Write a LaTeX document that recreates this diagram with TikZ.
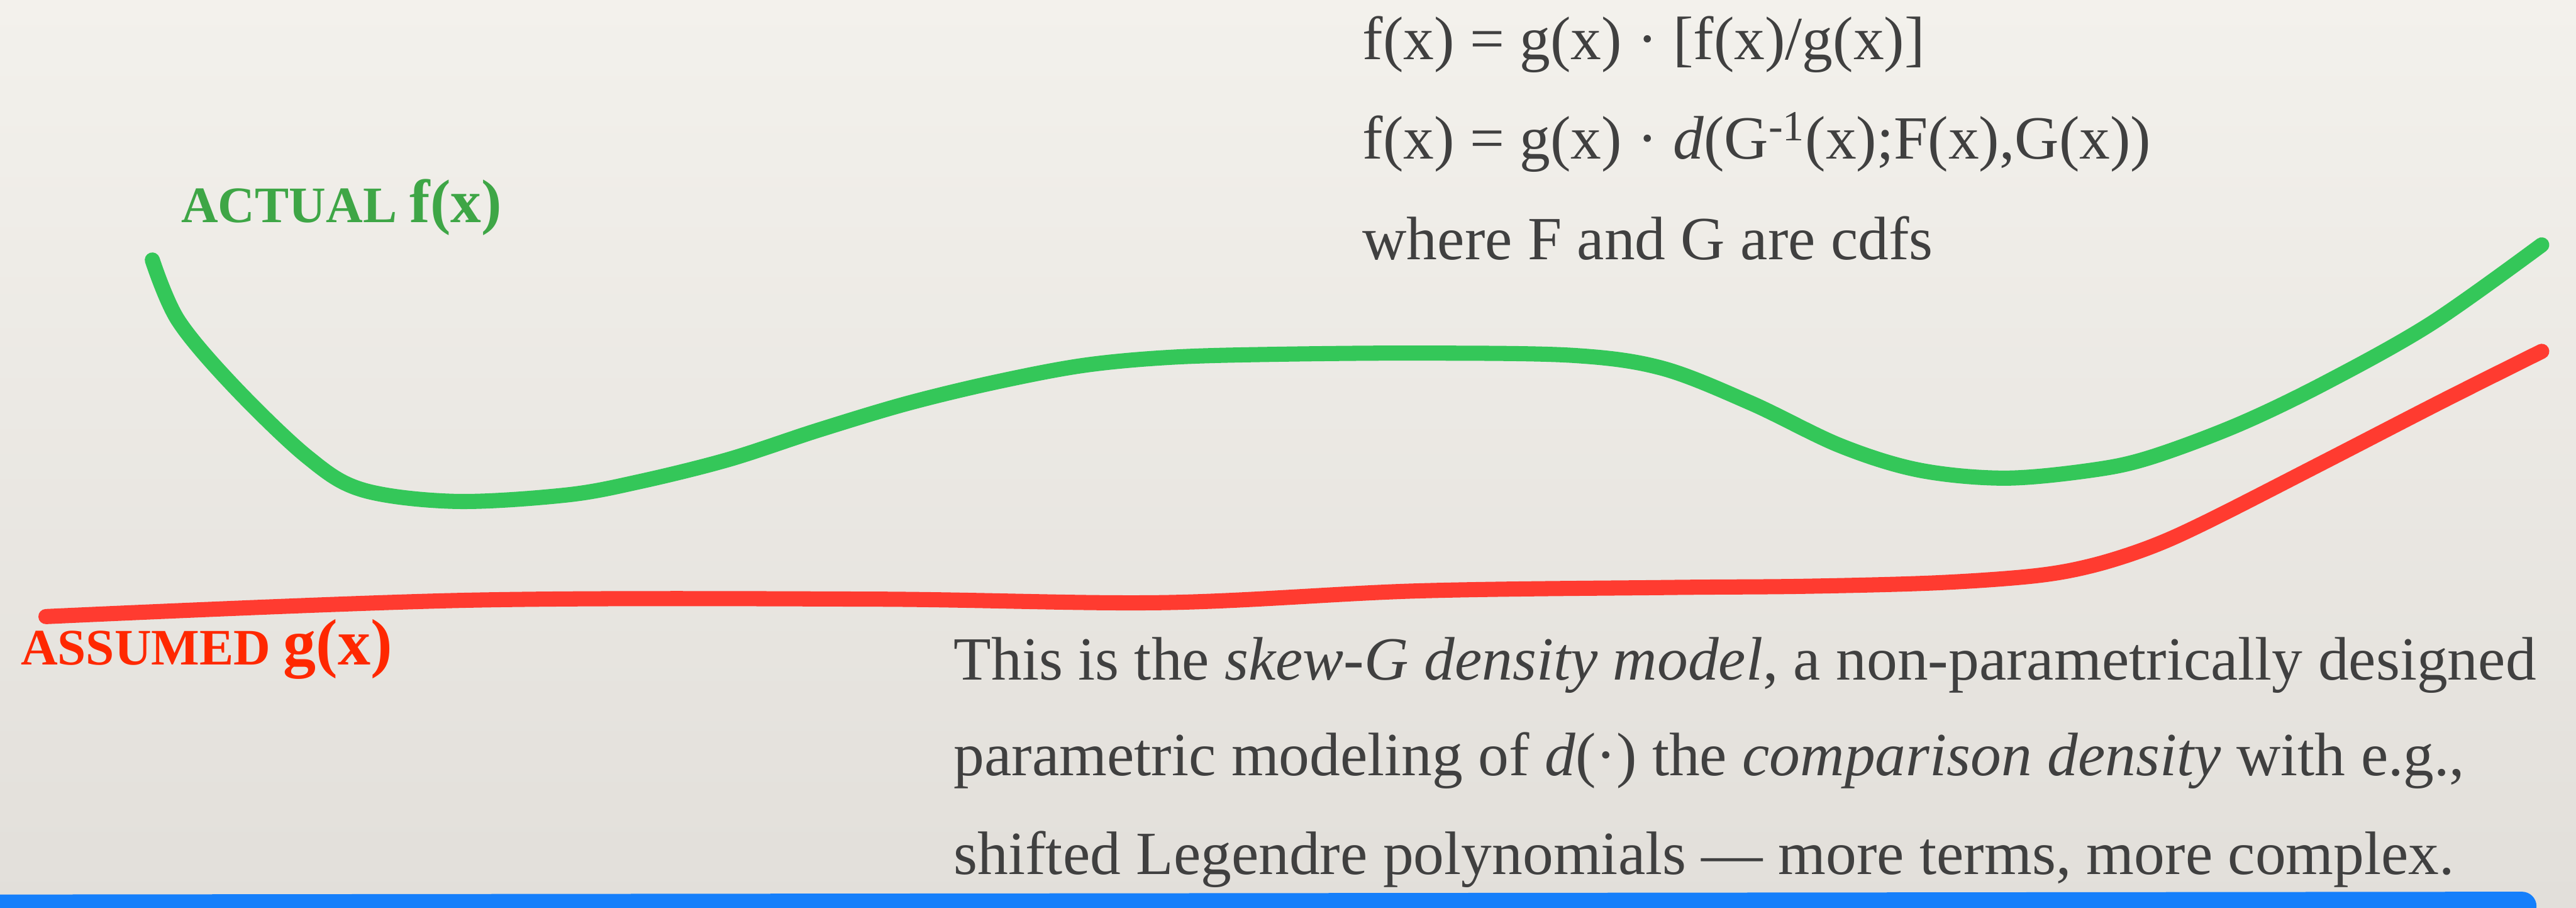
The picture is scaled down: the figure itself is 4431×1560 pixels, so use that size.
\documentclass[tikz,border=0pt]{standalone}
\usepackage{fontspec}
\setmainfont{Liberation Serif}
\definecolor{paperTop}{RGB}{243,241,236}
\definecolor{paperBot}{RGB}{226,223,218}
\definecolor{fLine}{RGB}{52,199,89}
\definecolor{fText}{RGB}{62,166,70}
\definecolor{gLine}{RGB}{255,59,48}
\definecolor{gText}{RGB}{255,40,0}
\definecolor{barBlue}{RGB}{21,127,251}
\definecolor{ink}{RGB}{64,64,64}

\begin{document}
\begin{tikzpicture}[x=0.01cm,y=-0.01cm,
  curve/.style={line width=0.26cm, line cap=round, line join=round},
  txt/.style={anchor=base west, inner sep=0pt, text=ink, font=\fontsize{30}{36}\selectfont},
  tag/.style={anchor=base west, inner sep=0pt, font=\fontsize{25}{30}\selectfont\bfseries}]
\useasboundingbox (0,0) rectangle (4431,1560);
\shade[top color=paperTop, bottom color=paperBot] (0,0) rectangle (4431,1560);
\draw[curve, fLine] plot[smooth, tension=0.55] coordinates {(262,447) (306,550) (400,662) (528,785) (623,842) (783,862) (974,851) (1100,828) (1253,790) (1406,740) (1559,694) (1712,657) (1865,628) (2018,614) (2200,609) (2450,607) (2706,611) (2859,633) (3012,693) (3165,766) (3300,808) (3448,822) (3600,808) (3700,786) (3850,730) (4000,658) (4182,556) (4372,421)};
\draw[curve, gLine] plot[smooth, tension=0.55] coordinates {(79,1060) (800,1032) (1500,1030) (2000,1036) (2434,1016) (2868,1010) (3100,1008) (3330,1002) (3500,990) (3600,972) (3700,940) (3800,895) (4000,793) (4200,690) (4372,604)};
\draw[barBlue, line width=0.5cm, line cap=round] (-100,1563) -- (4338,1558);
\node[tag, text=fText] (actual) at (311,382) {ACTUAL {\fontsize{30}{36}\selectfont f(x)}};
\node[tag, text=gText] (assumed) at (35,1143) {ASSUMED {\fontsize{32}{36}\selectfont g(x)}};
\node[txt] (eqa) at (2343,102) {f(x) = g(x) · [f(x)/g(x)]};
\node[txt] (eqb) at (2343,273) {f(x) = g(x) · \textit{d}(G\textsuperscript{-1}(x);F(x),G(x))};
\node[txt] (eqc) at (2343,446) {where F and G are cdfs};
\node[txt] (notea) at (1640,1169) {This is the \textit{skew-G density model}, a non-parametrically designed};
\node[txt] (noteb) at (1640,1333) {parametric modeling of \textit{d}(·) the \textit{comparison density} with e.g.,};
\node[txt] (notec) at (1640,1503) {shifted Legendre polynomials — more terms, more complex.};
\end{tikzpicture}
\end{document}
